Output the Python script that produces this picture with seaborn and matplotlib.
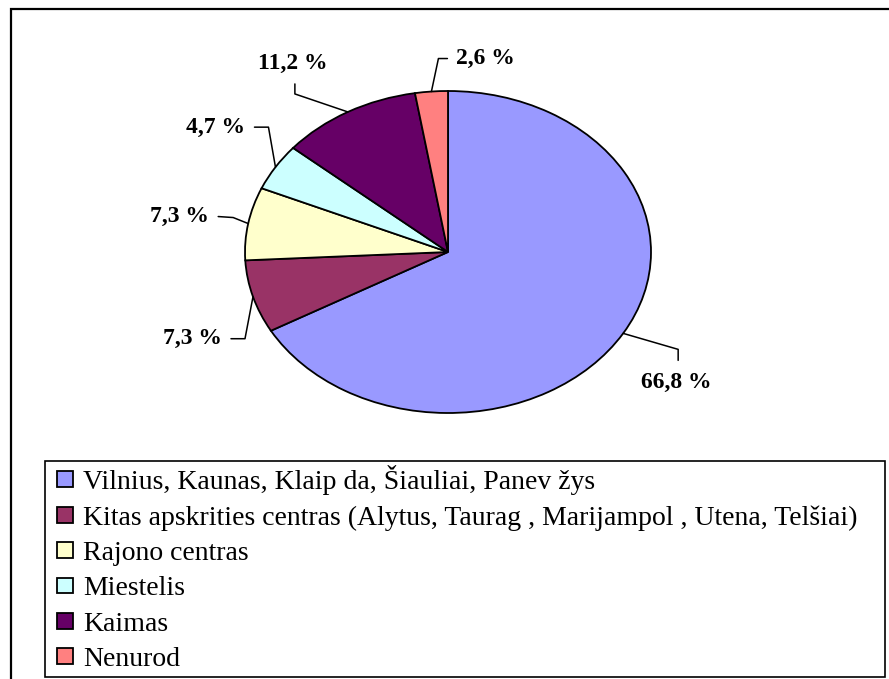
import matplotlib.pyplot as plt
import numpy as np
import seaborn as sns
from matplotlib.lines import Line2D
from matplotlib.patches import Rectangle
from matplotlib.transforms import IdentityTransform

categories = [
    "Vilnius, Kaunas, Klaip da, Šiauliai, Panev žys",
    "Kitas apskrities centras (Alytus, Taurag , Marijampol , Utena, Telšiai)",
    "Rajono centras",
    "Miestelis",
    "Kaimas",
    "Nenurod",
]
shares = [66.8, 7.3, 7.3, 4.7, 11.2, 2.6]
slice_colors = ["#9999FF", "#993366", "#FFFFCC", "#CCFFFF", "#660066", "#FF8080"]

# leader line bends and label anchor, in pixels from the slice edge (x right, y down)
label_layout = [
    ([(55, 16), (55, 27)], (53, 49), "center"),
    ([(-8, 42), (-22, 42)], (-31, 42), "right"),
    ([(-15, -6), (-30, -7)], (-39, -7), "right"),
    ([(-7, -40), (-21, -40)], (-30, -40), "right"),
    ([(-53, -18), (-53, -28)], (-55, -48), "center"),
    ([(7, -33), (16, -33)], (25, -33), "left"),
]

W, H = 889, 679
sns.set_theme(style="white")
plt.rcParams["font.family"] = ["Liberation Serif", "DejaVu Serif"]

fig = plt.figure(figsize=(W / 100, H / 100), dpi=100)
fig.patch.set_facecolor("white")

# pie drawn as an ellipse: centre (448, 252), radii 203 x 161 px
cx, cy, rx, ry = 448, 252, 203, 161
ax = fig.add_axes([(cx - rx) / W, 1 - (cy + ry) / H, 2 * rx / W, 2 * ry / H])
palette = sns.color_palette(slice_colors)
wedges, _ = ax.pie(
    shares,
    colors=palette,
    startangle=90,
    counterclock=False,
    wedgeprops=dict(edgecolor="black", linewidth=1.3),
)
ax.set_aspect("auto")
ax.set_xlim(-1, 1)
ax.set_ylim(-1, 1)
ax.axis("off")

ident = IdentityTransform()
for wedge, value, (bends, text_off, ha) in zip(wedges, shares, label_layout):
    mid = np.deg2rad((wedge.theta1 + wedge.theta2) / 2)
    ex, ey = ax.transData.transform((np.cos(mid), np.sin(mid)))
    xs = [ex] + [ex + dx for dx, dy in bends]
    ys = [ey] + [ey - dy for dx, dy in bends]
    fig.add_artist(Line2D(xs, ys, color="black", linewidth=1.1, transform=ident))
    label = f"{value:.1f}".replace(".", ",") + " %"
    fig.text(ex + text_off[0], ey - text_off[1], label, transform=ident,
             ha=ha, va="center", fontsize=17, fontweight="bold", color="black")

# outer chart border (right and bottom edges fall outside the picture)
fig.add_artist(Rectangle((11 / W, -0.05), 1.1, 1 - 9 / H + 0.05, transform=fig.transFigure,
                         fill=False, edgecolor="black", linewidth=1.6))

# legend box, drawn separately so the entries can sit inside with their own padding
fig.add_artist(Rectangle((45 / W, 1 - 677 / H), 840 / W, 216 / H, transform=fig.transFigure,
                         fill=False, edgecolor="black", linewidth=1.2))
leg = fig.legend(
    wedges,
    categories,
    loc="upper left",
    bbox_to_anchor=(57 / W, 1 - 465 / H),
    bbox_transform=fig.transFigure,
    borderaxespad=0,
    borderpad=0,
    fontsize=20,
    labelcolor="black",
    frameon=False,
    handlelength=0.58,
    handleheight=0.5,
    handletextpad=0.36,
    labelspacing=0.37,
)

fig.savefig("out.png", dpi=100)
